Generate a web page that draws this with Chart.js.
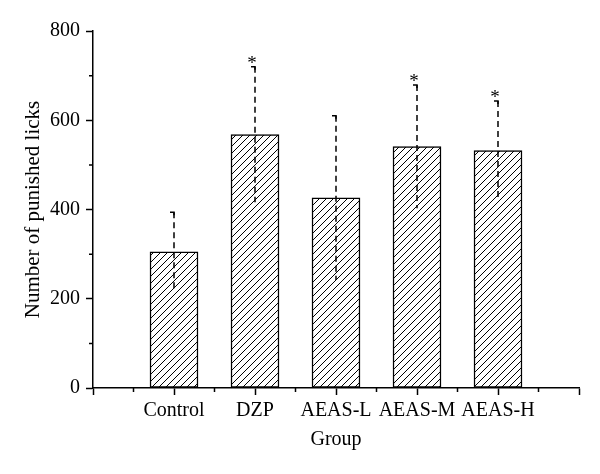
<!DOCTYPE html>
<html>
<head>
<meta charset="utf-8">
<script src="https://cdn.jsdelivr.net/npm/chart.js@4.4.1/dist/chart.umd.min.js"></script>
<style>
  body { margin: 0; background: #fff; }
  #wrap { width: 600px; height: 474px; }
</style>
</head>
<body>
<div id="wrap"><canvas id="myChart"></canvas></div>
<script>
  const groups = ['Control', 'DZP', 'AEAS-L', 'AEAS-M', 'AEAS-H'];
  const licks = [305, 568, 426, 541, 532];
  const licksErr = [89, 152, 184, 138, 111];
  const significant = [false, true, false, true, true];
  const yTicks = [0, 200, 400, 600, 800];

  const FONT = '"Liberation Serif", "Times New Roman", serif';

  // diagonal hatch for the bars
  const makeHatch = function() {
    const c = document.createElement('canvas');
    c.width = 7; c.height = 7;
    const g = c.getContext('2d');
    g.fillStyle = '#fff';
    g.fillRect(0, 0, 7, 7);
    g.strokeStyle = '#000';
    g.lineWidth = 1;
    g.beginPath();
    g.moveTo(-1, 8); g.lineTo(8, -1);
    g.moveTo(-1, 1); g.lineTo(1, -1);
    g.moveTo(6, 8); g.lineTo(8, 6);
    g.stroke();
    return g.createPattern(c, 'repeat');
  };

  // error bars, asterisks and the short minor ticks
  const extras = {
    id: 'extras',
    afterDatasetsDraw(chart) {
      const ctx = chart.ctx;
      const xs = chart.scales.x, ys = chart.scales.y;
      ctx.save();
      ctx.strokeStyle = '#000';
      ctx.lineWidth = 1.5;
      licks.forEach((v, i) => {
        const x = Math.round(xs.getPixelForValue(i));
        const top = ys.getPixelForValue(v + licksErr[i]);
        const bot = ys.getPixelForValue(v - licksErr[i]);
        ctx.setLineDash([6, 4]);
        ctx.beginPath();
        ctx.moveTo(x, top);
        ctx.lineTo(x, bot);
        ctx.stroke();
        ctx.setLineDash([]);
        ctx.beginPath();
        ctx.moveTo(x - 4, top);
        ctx.lineTo(x, top);
        ctx.lineTo(x, top + 3);
        ctx.stroke();
        if (significant[i]) {
          ctx.fillStyle = '#000';
          ctx.font = '19px ' + FONT;
          ctx.textAlign = 'center';
          ctx.textBaseline = 'alphabetic';
          ctx.fillText('*', x - 3, top + 2);
        }
      });
      // minor ticks
      ctx.lineWidth = 1.5;
      ctx.beginPath();
      [100, 300, 500, 700].forEach(t => {
        const y = ys.getPixelForValue(t);
        ctx.moveTo(xs.left - 4, y);
        ctx.lineTo(xs.left, y);
      });
      [-0.5, 0.5, 1.5, 2.5, 3.5, 4.5].forEach(t => {
        const x = xs.getPixelForValue(t);
        ctx.moveTo(x, ys.bottom);
        ctx.lineTo(x, ys.bottom + 4);
      });
      ctx.stroke();
      ctx.restore();
    }
  };

  const ctx = document.getElementById('myChart');

  new Chart(ctx, {
    type: 'bar',
    data: {
      datasets: [{
        data: licks.map((v, i) => ({ x: i, y: v })),
        backgroundColor: makeHatch(),
        borderColor: '#000',
        borderWidth: 1.5,
        borderSkipped: false,
        barThickness: 48
      }]
    },
    options: {
      responsive: true,
      maintainAspectRatio: false,
      animation: false,
      events: [],
      layout: { padding: { top: 31, right: 21, left: 21, bottom: 22 } },
      plugins: { legend: { display: false }, tooltip: { enabled: false } },
      scales: {
        x: {
          type: 'linear',
          offset: false,
          min: -1,
          max: 5,
          afterBuildTicks: (scale) => {
            scale.ticks = [-1, 0, 1, 2, 3, 4, 5].map(v => ({ value: v }));
          },
          afterFit: (scale) => { scale.height = 64; },
          grid: { offset: false, drawOnChartArea: false, drawTicks: true, tickLength: 7, tickColor: '#000', tickWidth: 1.5 },
          border: { display: true, color: '#000', width: 1.5 },
          ticks: {
            color: '#000',
            font: { family: FONT, size: 20 },
            padding: 4,
            maxRotation: 0,
            autoSkip: false,
            callback: (v) => groups[v] !== undefined ? groups[v] : ''
          },
          title: {
            display: true,
            text: 'Group',
            color: '#000',
            font: { family: FONT, size: 20 },
            padding: { top: 0, bottom: 0 }
          }
        },
        y: {
          min: 0,
          max: 800,
          afterBuildTicks: (scale) => {
            scale.ticks = yTicks.map(v => ({ value: v }));
          },
          afterFit: (scale) => { scale.width = 72; },
          grid: { drawOnChartArea: false, drawTicks: true, tickLength: 7, tickColor: '#000', tickWidth: 1.5 },
          border: { display: true, color: '#000', width: 1.5 },
          ticks: {
            color: '#000',
            font: { family: FONT, size: 20 },
            padding: 6
          },
          title: {
            display: true,
            text: 'Number of punished licks',
            color: '#000',
            font: { family: FONT, size: 21 },
            padding: { top: 0, bottom: 8 }
          }
        }
      }
    },
    plugins: [extras]
  });
</script>
</body>
</html>
